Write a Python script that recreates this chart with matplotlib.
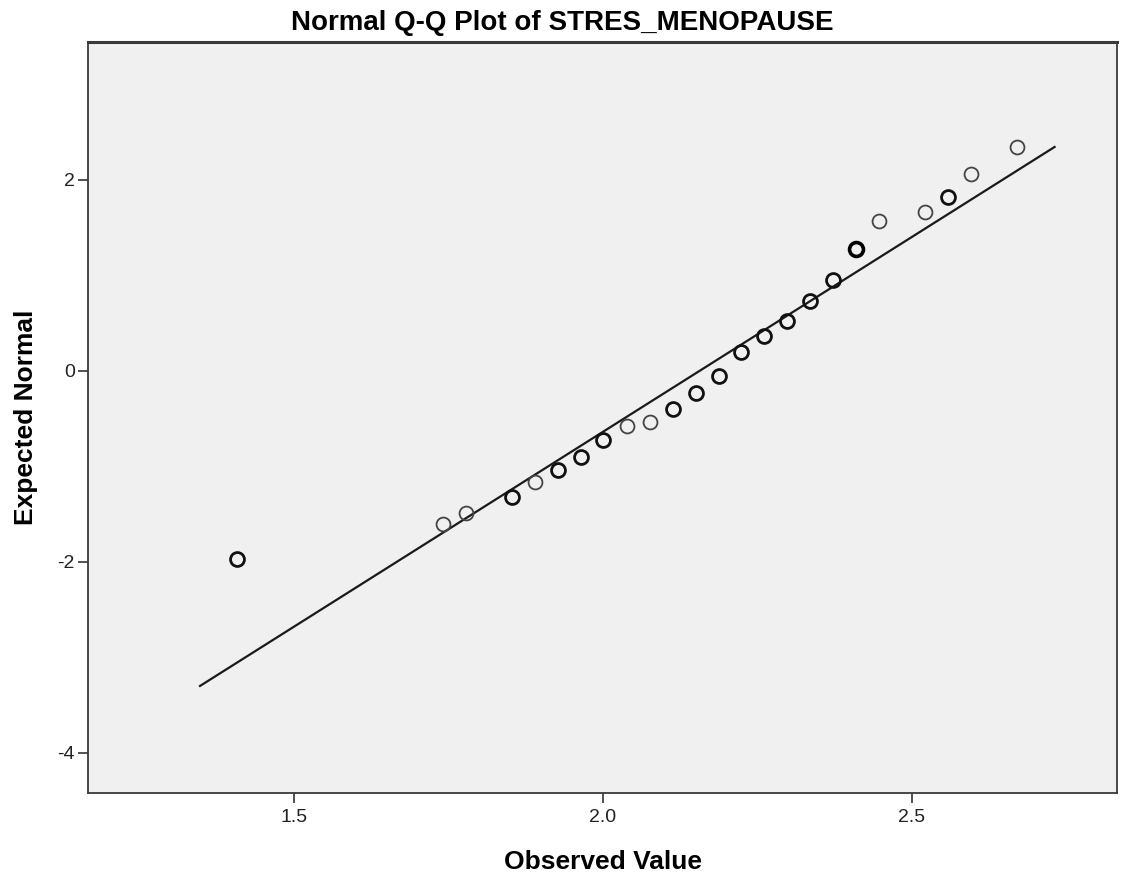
import matplotlib
matplotlib.use("Agg")
import matplotlib.pyplot as plt

observed = [1.408, 1.741, 1.778, 1.853, 1.890, 1.927, 1.964, 2.000, 2.039, 2.076,
            2.113, 2.150, 2.188, 2.223, 2.261, 2.298, 2.335, 2.372, 2.409, 2.447,
            2.521, 2.558, 2.595, 2.670]
expected = [-1.969, -1.602, -1.487, -1.319, -1.162, -1.037, -0.901, -0.723, -0.576, -0.534,
            -0.398, -0.230, -0.052, 0.199, 0.366, 0.524, 0.733, 0.953, 1.277, 1.571,
            1.665, 1.822, 2.063, 2.346]
# tied cases drawn on top of each other (darker circles)
ties = [2, 1, 1, 2, 1, 2, 2, 2, 1, 1,
        2, 2, 2, 2, 2, 2, 2, 2, 3, 1,
        1, 2, 1, 1]

# reference line end points
line_x = [1.348, 2.731]
line_y = [-3.298, 2.346]

xticks = [1.5, 2.0, 2.5]
xticklabels = ["1.5", "2.0", "2.5"]
yticks = [2, 0, -2, -4]
yticklabels = ["2", "0", "-2", "-4"]

plt.rcParams['font.family'] = ['Liberation Sans', 'DejaVu Sans']

fig = plt.figure(figsize=(11.24, 8.8), dpi=100)
ax = fig.add_axes([88 / 1124, 1 - 793 / 880, 1029 / 1124, 751 / 880])
ax.set_facecolor("#f0f0f0")

ax.plot(line_x, line_y, color="#1a1a1a", linewidth=1.6, zorder=2)

for xv, yv, n in zip(observed, expected, ties):
    if n == 1:
        lw, col = 1.3, "#444444"
    elif n == 2:
        lw, col = 2.0, "#111111"
    else:
        lw, col = 2.6, "#000000"
    ax.plot([xv], [yv], marker="o", markersize=10, markerfacecolor="none",
            markeredgecolor=col, markeredgewidth=lw, linestyle="none", zorder=3)

ax.set_xlim(1.1667, 2.832)
ax.set_ylim(-4.419, 3.445)

ax.set_xticks(xticks)
ax.set_xticklabels(xticklabels)
ax.set_yticks(yticks)
ax.set_yticklabels(yticklabels)
ax.tick_params(axis="both", direction="out", length=7.5, width=1.2, color="#333333",
               labelsize=14, labelcolor="#222222", pad=2)
ax.tick_params(axis="x", pad=4)

for s in ax.spines.values():
    s.set_color("#3a3a3a")
    s.set_linewidth(1.3)
ax.spines["top"].set_linewidth(2.2)

# title is centred on the figure, not on the axes
ax.set_title("Normal Q-Q Plot of STRES_MENOPAUSE", fontsize=20, fontweight="bold",
             x=(562 - 88) / 1029, pad=9, color="#000000")
ax.set_xlabel("Observed Value", fontsize=19, fontweight="bold", labelpad=17)
ax.set_ylabel("Expected Normal", fontsize=19, fontweight="bold", labelpad=14)

fig.savefig("out.png", dpi=100, facecolor="white")
